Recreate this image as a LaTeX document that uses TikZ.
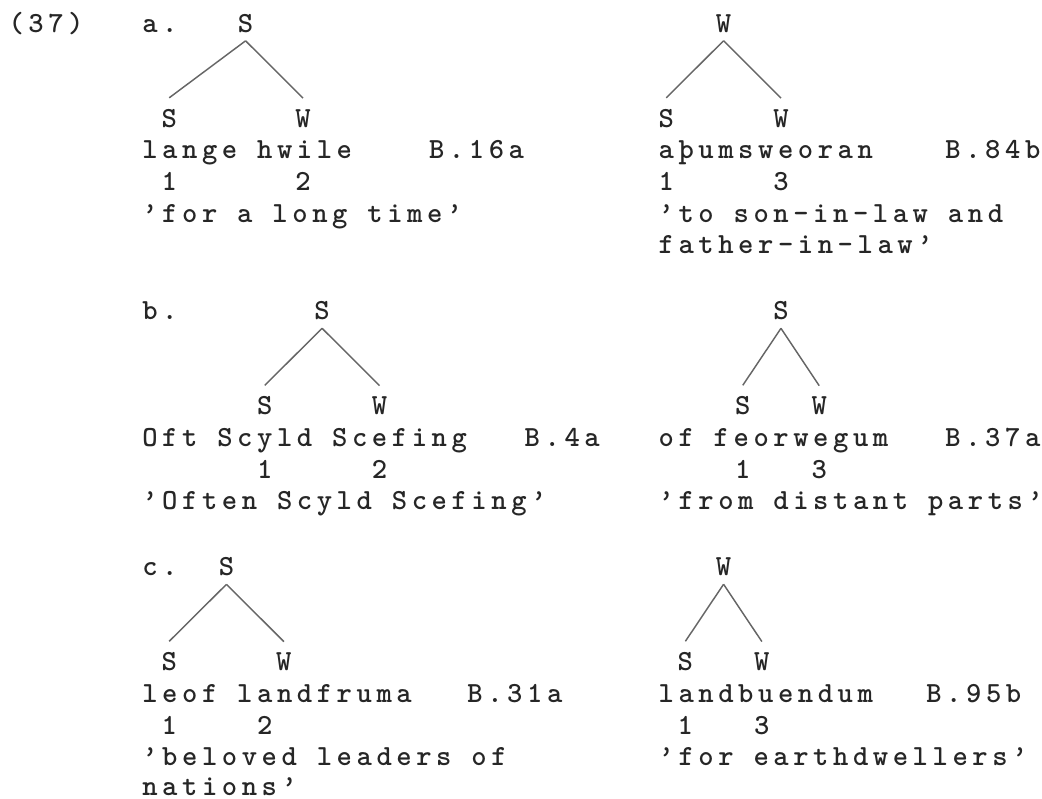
\documentclass[tikz,border=0pt]{standalone}
\usepackage{fontspec}
\newfontfamily\cour{lmmonolt10-bold.otf}[LetterSpace=15.7]

\begin{document}
\begin{tikzpicture}[x=0.377pt, y=-0.377pt,
    txt/.style={anchor=base west, inner sep=0pt, font={\fontsize{11}{13}\cour}, text=black!85},
    branch/.style={draw=black!60, line width=0.55pt}]

    \useasboundingbox (0,0) rectangle (1042,799);

    % (37) a.
    \node [txt] (ex) at (8,32) {(37)};
    \node [txt] (la) at (141.8,32) {a.};
    \node [txt] (aL) at (237.4,32) {S}; % left tree root
    \node [txt] (aLs) at (161,127.1) {S};
    \node [txt] (aLw) at (294.8,127.1) {W};
    \node [txt] (aLtxt) at (141.8,158.8) {lange hwile};
    \node [txt] (aLref) at (428.6,158.8) {B.16a};
    \node [txt] (aLn1) at (161,190.5) {1};
    \node [txt] (aLn2) at (294.8,190.5) {2};
    \node [txt] (aLgl) at (141.8,222.2) {’for a long time’};

    \node [txt] (aR) at (715.4,32) {W}; % right tree root
    \node [txt] (aRs) at (658.1,127.1) {S};
    \node [txt] (aRw) at (772.8,127.1) {W};
    \node [txt] (aRtxt) at (658.1,158.8) {aþumsweoran};
    \node [txt] (aRref) at (944.9,158.8) {B.84b};
    \node [txt] (aRn1) at (658.1,190.5) {1};
    \node [txt] (aRn3) at (772.8,190.5) {3};
    \node [txt] (aRgl) at (658.1,222.2) {’to son-in-law and};
    \node [txt] (aRgl2) at (658.1,253.9) {father-in-law’};

    % b.
    \node [txt] (lb) at (141.8,319.5) {b.};
    \node [txt] (bL) at (313.9,319.5) {S};
    \node [txt] (bLs) at (256.6,414.6) {S};
    \node [txt] (bLw) at (371.3,414.6) {W};
    \node [txt] (bLtxt) at (141.8,446.3) {Oft Scyld Scefing};
    \node [txt] (bLref) at (524.2,446.3) {B.4a};
    \node [txt] (bLn1) at (256.6,478) {1};
    \node [txt] (bLn2) at (371.3,478) {2};
    \node [txt] (bLgl) at (141.8,509.7) {’Often Scyld Scefing’};

    \node [txt] (bR) at (772.8,319.5) {S};
    \node [txt] (bRs) at (734.6,414.6) {S};
    \node [txt] (bRw) at (811,414.6) {W};
    \node [txt] (bRtxt) at (658.1,446.3) {of feorwegum};
    \node [txt] (bRref) at (944.9,446.3) {B.37a};
    \node [txt] (bRn1) at (734.6,478) {1};
    \node [txt] (bRn3) at (811,478) {3};
    \node [txt] (bRgl) at (658.1,509.7) {’from distant parts’};

    % c.
    \node [txt] (lc) at (141.8,575.5) {c.};
    \node [txt] (cL) at (218.3,575.5) {S};
    \node [txt] (cLs) at (161,670.6) {S};
    \node [txt] (cLw) at (275.7,670.6) {W};
    \node [txt] (cLtxt) at (141.8,702.3) {leof landfruma};
    \node [txt] (cLref) at (466.9,702.3) {B.31a};
    \node [txt] (cLn1) at (161,734) {1};
    \node [txt] (cLn2) at (256.6,734) {2};
    \node [txt] (cLgl) at (141.8,765.7) {’beloved leaders of};
    \node [txt] (cLgl2) at (141.8,795.5) {nations’};

    \node [txt] (cR) at (715.4,575.5) {W};
    \node [txt] (cRs) at (677.2,670.6) {S};
    \node [txt] (cRw) at (753.7,670.6) {W};
    \node [txt] (cRtxt) at (658.1,702.3) {landbuendum};
    \node [txt] (cRref) at (925.8,702.3) {B.95b};
    \node [txt] (cRn1) at (677.2,734) {1};
    \node [txt] (cRn3) at (753.7,734) {3};
    \node [txt] (cRgl) at (658.1,765.7) {’for earthdwellers’};

    % branches, from just under each root to just over its two children
    \draw [branch] ([yshift=-3pt]aL.south) -- ([yshift=4pt]aLs.north);
    \draw [branch] ([yshift=-3pt]aL.south) -- ([yshift=4pt]aLw.north);
    \draw [branch] ([yshift=-3pt]aR.south) -- ([yshift=4pt]aRs.north);
    \draw [branch] ([yshift=-3pt]aR.south) -- ([yshift=4pt]aRw.north);
    \draw [branch] ([yshift=-3pt]bL.south) -- ([yshift=4pt]bLs.north);
    \draw [branch] ([yshift=-3pt]bL.south) -- ([yshift=4pt]bLw.north);
    \draw [branch] ([yshift=-3pt]bR.south) -- ([yshift=4pt]bRs.north);
    \draw [branch] ([yshift=-3pt]bR.south) -- ([yshift=4pt]bRw.north);
    \draw [branch] ([yshift=-3pt]cL.south) -- ([yshift=4pt]cLs.north);
    \draw [branch] ([yshift=-3pt]cL.south) -- ([yshift=4pt]cLw.north);
    \draw [branch] ([yshift=-3pt]cR.south) -- ([yshift=4pt]cRs.north);
    \draw [branch] ([yshift=-3pt]cR.south) -- ([yshift=4pt]cRw.north);
\end{tikzpicture}
\end{document}
